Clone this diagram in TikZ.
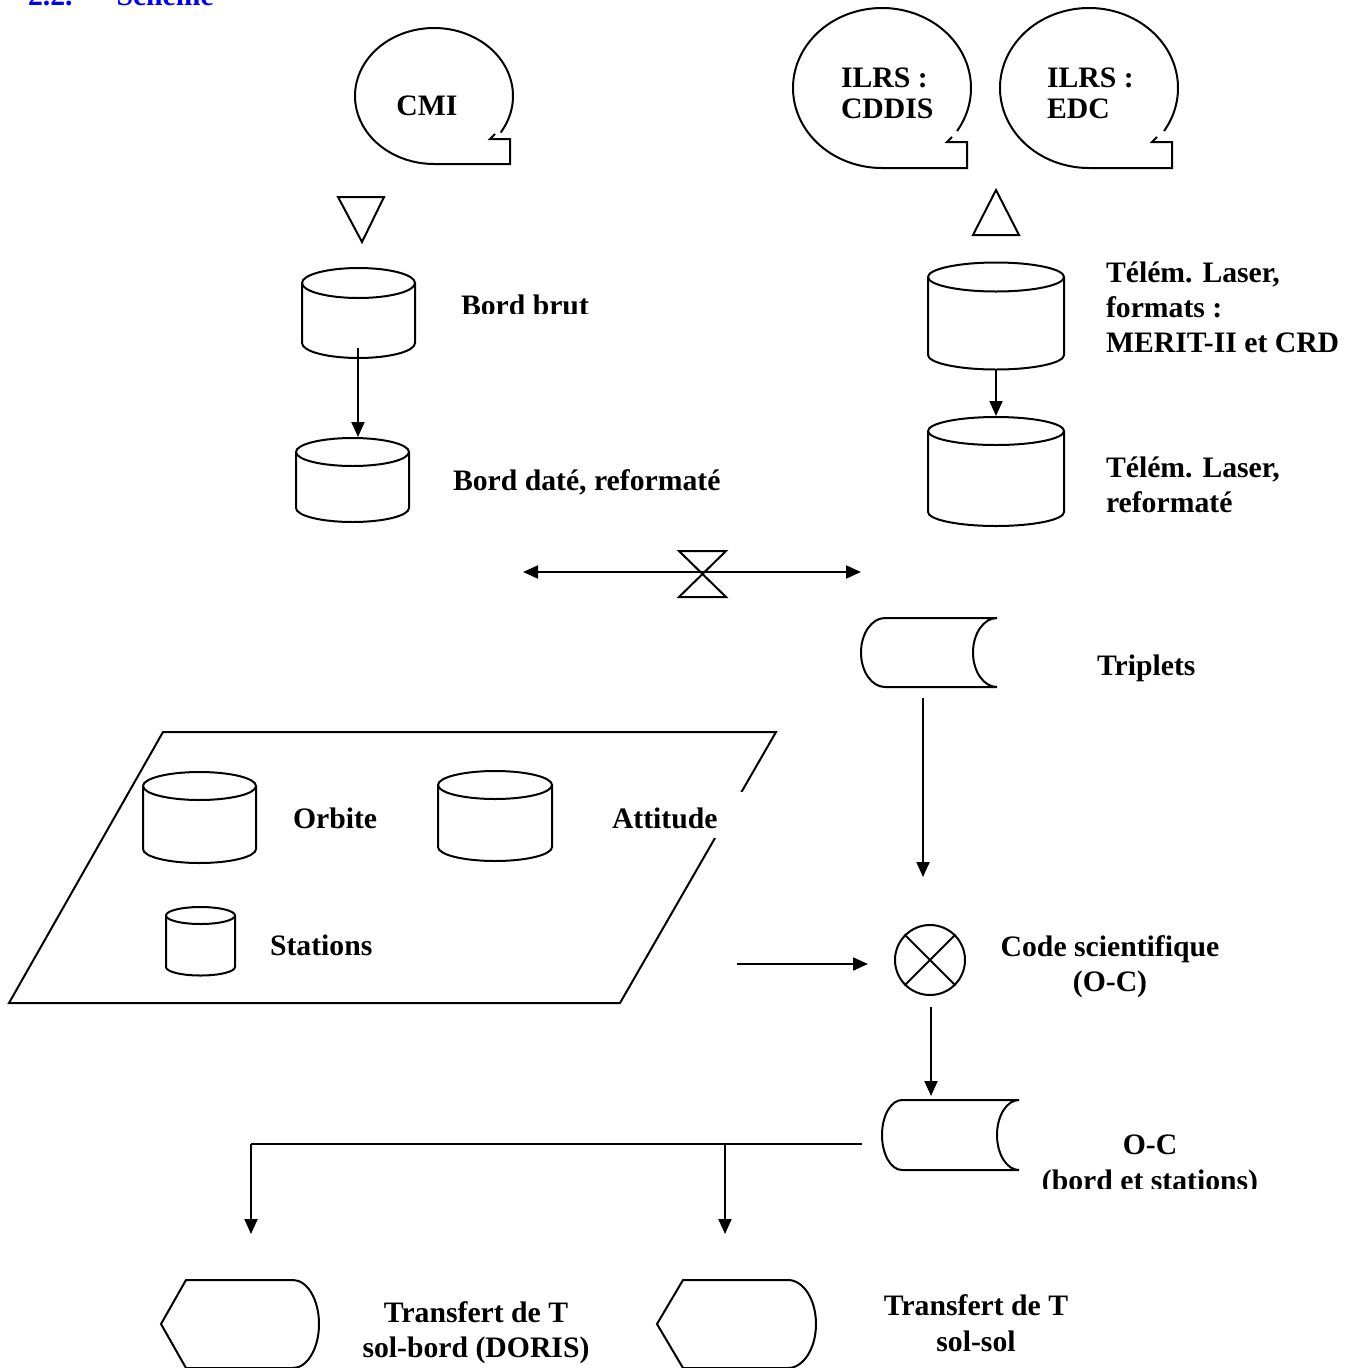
\documentclass[tikz,border=0pt]{standalone}
\usepackage{fontspec}
\setmainfont{Liberation Serif}
\usetikzlibrary{calc,arrows.meta}
\newcommand\dbcyl[6]{%
  \coordinate (#1) at ({(#2+#3)/2},{-(#4+#5)/2});
  \draw (#2,-#5) -- (#2,-#4) arc[start angle=180,end angle=0,x radius={(#3-#2)/2},y radius=#6]
        -- (#3,-#5) arc[start angle=0,end angle=-180,x radius={(#3-#2)/2},y radius=#6];
  \draw (#2,-#4) arc[start angle=180,end angle=360,x radius={(#3-#2)/2},y radius=#6];
}
\begin{document}
\begin{tikzpicture}[x=1pt,y=1pt,line width=2pt,line join=miter,
  lbl/.style={font=\fontsize{29.7}{35}\selectfont\bfseries, inner sep=0pt},
  arr/.style={-{Triangle[length=15pt,width=13pt]}},
  darr/.style={{Triangle[length=15pt,width=13pt]}-{Triangle[length=15pt,width=13pt]}}]
\useasboundingbox (0,0) rectangle (1361,-1368);

% header
\node[lbl, text=blue, anchor=base west] (hdr) at (27,-5) {2.2.\hspace{44pt}Scheme};

% CMI bubble
\coordinate (cmic) at (434,-96);
\draw ($(cmic)+(-32.5:79 and 68)$) arc[start angle=-32.5,end angle=270,x radius=79,y radius=68]
  -- (510,-164) -- (510,-139) -- (490,-139) -- (495,-134);
\node[lbl, anchor=base] (cmi) at (427,-115) {CMI};

% ILRS bubbles
\coordinate (c1) at (882,-88);
\draw ($(c1)+(-32.5:89 and 80)$) arc[start angle=-32.5,end angle=270,x radius=89,y radius=80]
  -- (967,-168) -- (967,-142) -- (947,-142) -- (952,-137);
\node[lbl, font=\fontsize{29.7}{31.7}\selectfont\bfseries, anchor=base west] (cddis) at (840,-87)
  {\begin{tabular}[t]{@{}l@{}}ILRS :\\CDDIS\end{tabular}};
\coordinate (c2) at (1089,-88);
\draw ($(c2)+(-32.5:89 and 80)$) arc[start angle=-32.5,end angle=270,x radius=89,y radius=80]
  -- (1172,-168) -- (1172,-142) -- (1152,-142) -- (1157,-137);
\node[lbl, font=\fontsize{29.7}{31.7}\selectfont\bfseries, anchor=base west] (edc) at (1046,-87)
  {\begin{tabular}[t]{@{}l@{}}ILRS :\\EDC\end{tabular}};

% merge / extract triangles
\draw (338,-197) -- (384,-197) -- (362,-242) -- cycle;
\draw (973,-235) -- (1019,-235) -- (996,-190) -- cycle;

% left cylinders
\dbcyl{bb}{302}{415}{283}{343}{15}
\dbcyl{bd}{296}{409}{452}{508}{14}
\coordinate (bbout) at (358,-348);
\coordinate (bdin) at (358,-437);
\draw[arr] (bbout) -- (bdin);
\begin{scope}
  \clip (440,-250) rectangle (640,-313);
  \node[lbl, anchor=base west] (bbl) at (460,-315) {Bord brut};
\end{scope}
\node[lbl, anchor=base west] (bdl) at (452,-490) {Bord daté, reformaté};

% right cylinders
\dbcyl{ta}{928}{1064}{277}{355}{14.5}
\dbcyl{tb}{928}{1064}{431}{512}{14}
\coordinate (taout) at (996,-370);
\coordinate (tbin) at (996,-416);
\draw[arr] (taout) -- (tbin);
\node[lbl, anchor=base west] (tal) at (1105,-282)
  {\begin{tabular}[t]{@{}l@{}}Télém. Laser,\\formats :\\MERIT-II et CRD\end{tabular}};
\node[lbl, anchor=base west] (tbl) at (1105,-477)
  {\begin{tabular}[t]{@{}l@{}}Télém. Laser,\\reformaté\end{tabular}};

% collate with double arrow
\coordinate (cl) at (523,-572);
\coordinate (cr) at (861,-572);
\draw[darr] (cl) -- (cr);
\draw (679,-551) -- (726,-551) -- (679,-597) -- (726,-597) -- cycle;

% Triplets (stored data)
\draw (997,-618) -- (885,-618) arc[start angle=90,end angle=270,x radius=24,y radius=34.5]
  -- (997,-687) arc[start angle=270,end angle=90,x radius=24,y radius=34.5];
\node[lbl, anchor=base west] (trl) at (1096,-675) {Triplets};
\coordinate (trout) at (923,-698);
\coordinate (ocin) at (923,-877);
\draw[arr] (trout) -- (ocin);

% parallelogram with cylinders
\draw (163,-732) -- (776,-732) -- (620,-1003) -- (9,-1003) -- cycle;
\dbcyl{orb}{143}{256}{786}{849}{14}
\dbcyl{att}{438}{552}{785}{847}{14}
\dbcyl{sta}{166}{235}{915.5}{967}{8.5}
\node[lbl, anchor=base west] (orbl) at (292,-828) {Orbite};
\node[lbl, anchor=base west, fill=white, text height=36pt, text depth=10pt, inner xsep=26pt] (attl) at (585,-828) {Attitude};
\node[lbl, anchor=base west] (stal) at (269,-955) {Stations};
\coordinate (pout) at (737,-964);
\coordinate (pin) at (868,-964);
\draw[arr] (pout) -- (pin);

% connector (circle with cross)
\node[circle, draw, minimum size=70pt, inner sep=0pt] (code) at (930,-960) {};
\draw (code.45) -- (code.225) (code.135) -- (code.-45);
\node[lbl, anchor=base] (codel) at (1110,-956)
  {\begin{tabular}[t]{@{}c@{}}Code scientifique\\(O-C)\end{tabular}};
\coordinate (codeout) at (931,-1007);
\coordinate (ocin2) at (931,-1096);
\draw[arr] (codeout) -- (ocin2);

% O-C stored data
\draw (1019,-1100) -- (902,-1100) arc[start angle=90,end angle=270,x radius=20,y radius=35]
  -- (1019,-1170) arc[start angle=270,end angle=90,x radius=22,y radius=35];
\begin{scope}
  \clip (1000,-1110) rectangle (1300,-1188);
  \node[lbl, font=\fontsize{29.7}{36}\selectfont\bfseries, anchor=base] (ocl) at (1150,-1154)
    {\begin{tabular}[t]{@{}c@{}}O-C\\(bord et stations)\end{tabular}};
\end{scope}

% distribution
\coordinate (ocleft) at (862,-1144);
\coordinate (j1) at (251,-1144);
\coordinate (j2) at (725,-1144);
\coordinate (d1) at (251,-1234);
\coordinate (d2) at (725,-1234);
\draw (ocleft) -- (j1);
\draw[arr] (j1) -- (d1);
\draw[arr] (j2) -- (d2);

% display shapes
\draw (293,-1280) -- (186,-1280) -- (161,-1324) -- (186,-1368) -- (293,-1368)
  arc[start angle=-90,end angle=90,x radius=26,y radius=44];
\draw (788,-1280) -- (683,-1280) -- (657,-1324) -- (683,-1368) -- (788,-1368)
  arc[start angle=-90,end angle=90,x radius=28,y radius=44];
\node[lbl, anchor=base] (tr1) at (476,-1322)
  {\begin{tabular}[t]{@{}c@{}}Transfert de T\\sol-bord (DORIS)\end{tabular}};
\node[lbl, font=\fontsize{29.7}{36}\selectfont\bfseries, anchor=base] (tr2) at (976,-1315)
  {\begin{tabular}[t]{@{}c@{}}Transfert de T\\sol-sol\end{tabular}};
\end{tikzpicture}
\end{document}
